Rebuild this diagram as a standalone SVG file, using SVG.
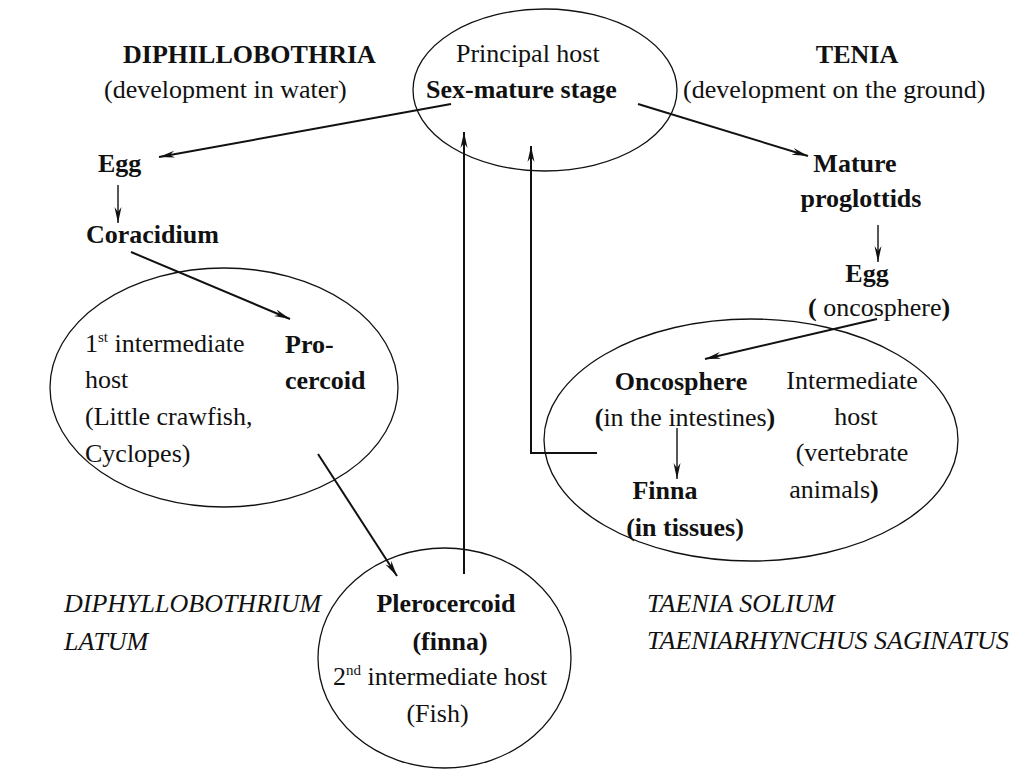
<svg xmlns="http://www.w3.org/2000/svg" width="1012" height="769" viewBox="0 0 1012 769">
<defs>
<style>
text{font-size:26px;fill:#111}
.b{font-weight:bold}
.i{font-style:italic}
.m{text-anchor:middle}
.sup{font-size:15px}
ellipse{fill:none;stroke:#111;stroke-width:1.3}
.c{fill:none;stroke:#111;stroke-width:2;marker-end:url(#ah)}
.s{fill:none;stroke:#111;stroke-width:1.4;marker-end:url(#ah)}
</style>
<marker id="ah" viewBox="0 0 16 8" refX="16" refY="4" markerWidth="16" markerHeight="8" markerUnits="userSpaceOnUse" orient="auto">
<path d="M0,0.5 L16,4 L0,7.5 L5,4 z" fill="#111"/>
</marker>
</defs>
<rect width="1012" height="769" fill="#fff"/>
<g font-family="'Liberation Serif', 'Times New Roman', serif">
<g id="title-left">
<text class="b" x="123" y="63">DIPHILLOBOTHRIA</text>
<text x="104" y="98">(development in water)</text>
</g>
<g id="title-right">
<text class="b m" x="857" y="63">TENIA</text>
<text x="683" y="98">(development on the ground)</text>
</g>

<g id="principal-host">
<ellipse cx="545" cy="90" rx="132" ry="81"/>
<text x="456" y="62">Principal host</text>
<text class="b" x="426" y="98">Sex-mature stage</text>
</g>

<g id="egg-left"><text class="b" x="98" y="172">Egg</text></g>
<g id="coracidium"><text class="b" x="86" y="243">Coracidium</text></g>

<g id="first-host">
<ellipse cx="224" cy="387.5" rx="174" ry="119.5"/>
<text x="85" y="352">1<tspan class="sup" dy="-10">st</tspan><tspan dy="10"> intermediate</tspan></text>
<text x="85" y="388">host</text>
<text x="85" y="425">(Little crawfish,</text>
<text x="85" y="462">Cyclopes)</text>
<text class="b" x="285" y="353">Pro-</text>
<text class="b" x="285" y="389">cercoid</text>
</g>

<g id="second-host">
<ellipse cx="444.5" cy="658" rx="126.5" ry="110"/>
<text class="b m" x="446" y="612">Plerocercoid</text>
<text class="b m" x="450" y="650">(finna)</text>
<text x="333" y="685">2<tspan class="sup" dy="-10">nd</tspan><tspan dy="10"> intermediate host</tspan></text>
<text class="m" x="437.5" y="722">(Fish)</text>
</g>

<g id="mature-proglottids">
<text class="b m" x="855" y="172">Mature</text>
<text class="b m" x="861" y="207">proglottids</text>
</g>
<g id="egg-right">
<text class="b m" x="867" y="282">Egg</text>
<text x="808" y="316"><tspan class="b">(</tspan> oncosphere<tspan class="b">)</tspan></text>
</g>

<g id="intermediate-host">
<ellipse cx="751" cy="440" rx="207" ry="121"/>
<text class="b m" x="681" y="390">Oncosphere</text>
<text class="m" x="685" y="426"><tspan class="b">(</tspan>in the intestines<tspan class="b">)</tspan></text>
<text class="b m" x="665" y="499">Finna</text>
<text class="b m" x="685" y="536">(in tissues)</text>
<text class="m" x="852" y="389">Intermediate</text>
<text class="m" x="856" y="425">host</text>
<text class="m" x="852" y="461">(vertebrate</text>
<text class="m" x="834" y="498">animals<tspan class="b">)</tspan></text>
</g>

<g id="species-left">
<text class="i" x="64" y="612">DIPHYLLOBOTHRIUM</text>
<text class="i" x="64" y="650">LATUM</text>
</g>
<g id="species-right">
<text class="i" x="647" y="612">TAENIA SOLIUM</text>
<text class="i" x="647" y="649">TAENIARHYNCHUS SAGINATUS</text>
</g>
</g>
<g id="connectors">
<line class="c" x1="451" y1="104" x2="159" y2="157"/>
<line class="s" x1="118" y1="185" x2="118" y2="223"/>
<line class="c" x1="131" y1="252" x2="290" y2="319"/>
<line class="c" x1="318" y1="454" x2="397" y2="576"/>
<line class="c" x1="464" y1="574" x2="464" y2="132"/>
<line class="c" x1="638" y1="104" x2="808" y2="156"/>
<line class="s" x1="878" y1="225" x2="878" y2="262"/>
<line class="c" x1="877" y1="319" x2="705" y2="359"/>
<line class="s" x1="677" y1="428" x2="677" y2="479"/>
<polyline class="c" points="597,453 531,453 531,146"/>
</g>
</svg>
